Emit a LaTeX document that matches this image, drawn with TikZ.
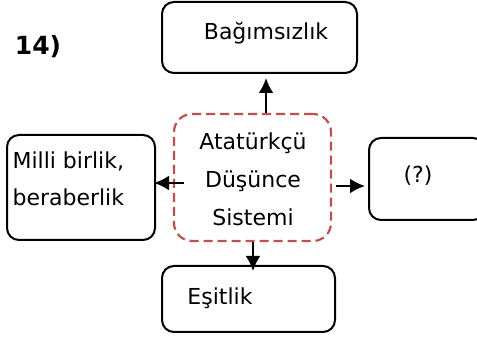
\documentclass[tikz,border=0pt]{standalone}
\usepackage{fontspec}
\setmainfont{DejaVu Sans}
\usetikzlibrary{arrows.meta,calc,positioning}
\tikzset{font={\fontsize{22pt}{38pt}\selectfont}}
\definecolor{dashred}{RGB}{192,80,77}

\begin{document}
\begin{tikzpicture}[x=1pt,y=1pt,
box/.style={draw,line width=2pt,rounded corners=12pt,inner sep=0pt},
arr/.style={line width=2.4pt,-{Latex[length=15pt,width=15pt]}}
]
\clip (0,0) rectangle (477,337);

% boxes
\node[box,minimum width=195,minimum height=71] (top) at (259.5,299.5) {};
\node[box,draw=dashred,line width=2.2pt,dash pattern=on 9pt off 5pt,rounded corners=18pt,minimum width=157,minimum height=127] (cen) at (252.5,159.5) {};
\node[box,minimum width=148,minimum height=105] (left) at (81,149.5) {};
\node[box,minimum width=116,minimum height=82] (right) at (427,158) {};
\node[box,minimum width=173,minimum height=66] (bot) at (248.5,38) {};

% texts
\node[font={\fontsize{25pt}{28pt}\selectfont\bfseries}] (num) at (38,290) {14)};
\node (tbag) at (266,304) {Bağımsızlık};
\node[align=center] (tcen) at (253,158) {Atatürkçü\\Düşünce\\Sistemi};
\node[align=left,anchor=west,font={\fontsize{22pt}{37pt}\selectfont}] (tmilli) at (9,158.5) {Milli birlik,\\beraberlik};
\node (tq) at (418,161) {(?)};
\node (tesit) at (220,39) {Eşitlik};

% arrows
\draw[arr] (cen.north -| tbag) -- ($(top.south -| tbag)+(0,-4)$);
\draw[arr] ($(cen.west)+(11,-5.5)$) -- ($(left.east)+(-2,4.5)$);
\draw[arr] ($(cen.east)+(4,-8.5)$) -- ($(right.west)+(-3,-7)$);
\draw[arr] ($(cen.south)+(0.5,0)$) -- ($(cen.south |- bot.north)+(0.5,-6)$);

\end{tikzpicture}
\end{document}
